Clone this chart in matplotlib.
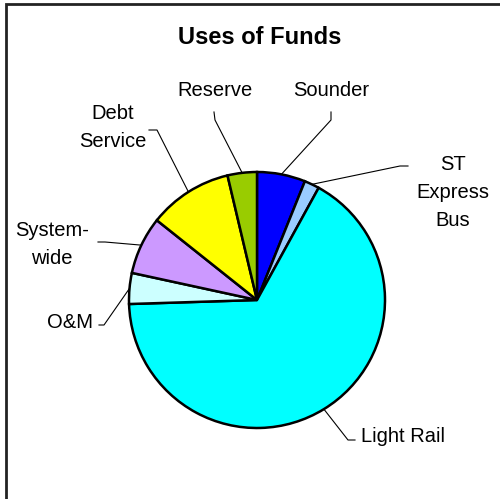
import numpy as np
import matplotlib
matplotlib.use("Agg")
import matplotlib.pyplot as plt
from matplotlib.patches import Rectangle

plt.rcParams['font.family'] = ['Liberation Sans', 'DejaVu Sans']

# slice shares (%), drawn clockwise from 12 o'clock
labels = ['Sounder', 'ST\nExpress\nBus', 'Light Rail', 'O&M', 'System-\nwide', 'Debt\nService', 'Reserve']
shares = [6.1, 1.9, 66.5, 3.9, 7.3, 10.6, 3.7]
colors = ['#0000FF', '#99CCFF', '#00FFFF', '#CCFFFF', '#CC99FF', '#FFFF00', '#99CC00']

W, H = 500, 499
fig = plt.figure(figsize=(W/100, H/100), dpi=100)
ax = fig.add_axes([0, 0, 1, 1])

# frame (right/bottom edges fall outside the picture)
fig.patches.append(Rectangle((6/W, -0.1), 1.2, (H - 4)/H + 0.1, transform=fig.transFigure,
                             fill=False, ec='#222222', lw=2))

cx, cy, r = 257, H - 300, 128
wedges, _ = ax.pie(shares, colors=colors, startangle=90, counterclock=False,
                   center=(cx, cy), radius=r, frame=True,
                   wedgeprops=dict(edgecolor='black', linewidth=1.8))
ax.set_xlim(0, W)
ax.set_ylim(0, H)
ax.axis('off')

ax.text(260, H - 37, 'Uses of Funds', ha='center', va='center', fontsize=17, fontweight='bold')

# label text position, elbow point, line end (image pixel coords, y down)
layout = [
    ((331, 90), (331, 120), (331, 112), 'center'),
    ((453, 192), (400, 166), (408, 166), 'center'),
    ((361, 437), (348, 440), (355, 440), 'left'),
    ((70, 323), (104, 325), (99, 325), 'center'),
    ((52, 244), (105, 242), (98, 242), 'center'),
    ((113, 127), (157, 130), (149, 130), 'center'),
    ((215, 90), (215, 120), (214, 112), 'center'),
]

for w, lab, ((tx, ty), (ex, ey), (lx, ly), ha) in zip(wedges, labels, layout):
    ang = np.deg2rad((w.theta1 + w.theta2) / 2)
    ax_, ay_ = cx + r*np.cos(ang), cy + r*np.sin(ang)
    ax.plot([ax_, ex, lx], [ay_, H - ey, H - ly], color='black', lw=0.8, zorder=0)
    ax.text(tx, H - ty, lab, ha=ha, va='center', fontsize=14.5, linespacing=1.6,
            multialignment='center')

fig.savefig('out.png', dpi=100)
